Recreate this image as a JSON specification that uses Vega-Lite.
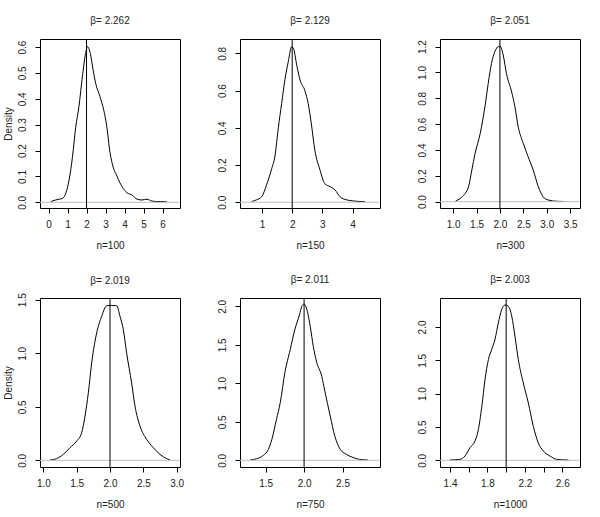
{
  "$schema": "https://vega.github.io/schema/vega-lite/v6.json",
  "background": "white",
  "padding": {"left": 2, "top": 15, "right": 5, "bottom": 5},
  "config": {
    "font": "Liberation Sans",
    "view": {"stroke": "black", "strokeWidth": 1},
    "axis": {"grid": false, "domain": false, "tickColor": "black", "tickSize": 5, "tickWidth": 1,
      "labelColor": "#222", "labelFontSize": 10, "labelPadding": 6, "labelOverlap": false, "labelFlush": false,
      "titleFontSize": 10, "titleFontWeight": "normal", "titleColor": "#222", "titlePadding": 11},
    "axisY": {"labelAngle": 270, "labelAlign": "center", "labelBaseline": "bottom", "labelPadding": 8, "titlePadding": 4},
    "title": {"fontSize": 10, "fontWeight": "normal", "color": "#222", "offset": 13}
  },
  "data": {"values": [
    {"p": "n=100", "x": 0.12, "y": 0.003}, {"p": "n=100", "x": 0.38, "y": 0.009}, {"p": "n=100", "x": 0.55, "y": 0.012},
    {"p": "n=100", "x": 0.73, "y": 0.015}, {"p": "n=100", "x": 0.91, "y": 0.035}, {"p": "n=100", "x": 1.08, "y": 0.086},
    {"p": "n=100", "x": 1.26, "y": 0.176}, {"p": "n=100", "x": 1.43, "y": 0.29}, {"p": "n=100", "x": 1.6, "y": 0.37},
    {"p": "n=100", "x": 1.78, "y": 0.485}, {"p": "n=100", "x": 1.95, "y": 0.575}, {"p": "n=100", "x": 2.05, "y": 0.602},
    {"p": "n=100", "x": 2.1, "y": 0.598}, {"p": "n=100", "x": 2.2, "y": 0.575}, {"p": "n=100", "x": 2.35, "y": 0.51},
    {"p": "n=100", "x": 2.48, "y": 0.46}, {"p": "n=100", "x": 2.7, "y": 0.41}, {"p": "n=100", "x": 2.91, "y": 0.355},
    {"p": "n=100", "x": 3.09, "y": 0.28}, {"p": "n=100", "x": 3.2, "y": 0.21}, {"p": "n=100", "x": 3.35, "y": 0.15},
    {"p": "n=100", "x": 3.61, "y": 0.1}, {"p": "n=100", "x": 3.87, "y": 0.06}, {"p": "n=100", "x": 4.13, "y": 0.037},
    {"p": "n=100", "x": 4.4, "y": 0.028}, {"p": "n=100", "x": 4.66, "y": 0.012}, {"p": "n=100", "x": 4.92, "y": 0.009},
    {"p": "n=100", "x": 5.18, "y": 0.012}, {"p": "n=100", "x": 5.44, "y": 0.005}, {"p": "n=100", "x": 5.7, "y": 0.003},
    {"p": "n=100", "x": 6.23, "y": 0.002},

    {"p": "n=150", "x": 0.66, "y": 0.004}, {"p": "n=150", "x": 0.82, "y": 0.013}, {"p": "n=150", "x": 0.99, "y": 0.03},
    {"p": "n=150", "x": 1.15, "y": 0.093}, {"p": "n=150", "x": 1.32, "y": 0.18}, {"p": "n=150", "x": 1.43, "y": 0.25},
    {"p": "n=150", "x": 1.54, "y": 0.4}, {"p": "n=150", "x": 1.65, "y": 0.53}, {"p": "n=150", "x": 1.76, "y": 0.66},
    {"p": "n=150", "x": 1.87, "y": 0.755}, {"p": "n=150", "x": 1.98, "y": 0.835}, {"p": "n=150", "x": 2.04, "y": 0.827},
    {"p": "n=150", "x": 2.15, "y": 0.737}, {"p": "n=150", "x": 2.26, "y": 0.657}, {"p": "n=150", "x": 2.42, "y": 0.6},
    {"p": "n=150", "x": 2.53, "y": 0.53}, {"p": "n=150", "x": 2.64, "y": 0.415}, {"p": "n=150", "x": 2.75, "y": 0.28},
    {"p": "n=150", "x": 2.92, "y": 0.174}, {"p": "n=150", "x": 3.08, "y": 0.1}, {"p": "n=150", "x": 3.25, "y": 0.084},
    {"p": "n=150", "x": 3.42, "y": 0.066}, {"p": "n=150", "x": 3.58, "y": 0.03}, {"p": "n=150", "x": 3.8, "y": 0.013},
    {"p": "n=150", "x": 4.02, "y": 0.007}, {"p": "n=150", "x": 4.41, "y": 0.003},

    {"p": "n=300", "x": 1.05, "y": 0.003}, {"p": "n=300", "x": 1.1, "y": 0.013}, {"p": "n=300", "x": 1.18, "y": 0.034},
    {"p": "n=300", "x": 1.26, "y": 0.065}, {"p": "n=300", "x": 1.33, "y": 0.116}, {"p": "n=300", "x": 1.4, "y": 0.245},
    {"p": "n=300", "x": 1.47, "y": 0.374}, {"p": "n=300", "x": 1.58, "y": 0.53}, {"p": "n=300", "x": 1.68, "y": 0.735},
    {"p": "n=300", "x": 1.75, "y": 0.916}, {"p": "n=300", "x": 1.82, "y": 1.07}, {"p": "n=300", "x": 1.89, "y": 1.16},
    {"p": "n=300", "x": 1.97, "y": 1.2}, {"p": "n=300", "x": 2.01, "y": 1.2}, {"p": "n=300", "x": 2.07, "y": 1.135},
    {"p": "n=300", "x": 2.14, "y": 0.99}, {"p": "n=300", "x": 2.25, "y": 0.85}, {"p": "n=300", "x": 2.32, "y": 0.735},
    {"p": "n=300", "x": 2.39, "y": 0.58}, {"p": "n=300", "x": 2.5, "y": 0.45}, {"p": "n=300", "x": 2.6, "y": 0.35},
    {"p": "n=300", "x": 2.71, "y": 0.245}, {"p": "n=300", "x": 2.82, "y": 0.116}, {"p": "n=300", "x": 2.92, "y": 0.039},
    {"p": "n=300", "x": 3.03, "y": 0.013}, {"p": "n=300", "x": 3.21, "y": 0.003}, {"p": "n=300", "x": 3.39, "y": 0.001},

    {"p": "n=500", "x": 1.1, "y": 0.003}, {"p": "n=500", "x": 1.2, "y": 0.016}, {"p": "n=500", "x": 1.3, "y": 0.056},
    {"p": "n=500", "x": 1.4, "y": 0.118}, {"p": "n=500", "x": 1.5, "y": 0.18}, {"p": "n=500", "x": 1.575, "y": 0.258},
    {"p": "n=500", "x": 1.625, "y": 0.413}, {"p": "n=500", "x": 1.675, "y": 0.63}, {"p": "n=500", "x": 1.725, "y": 0.91},
    {"p": "n=500", "x": 1.8, "y": 1.19}, {"p": "n=500", "x": 1.875, "y": 1.345}, {"p": "n=500", "x": 1.95, "y": 1.444},
    {"p": "n=500", "x": 2.025, "y": 1.447}, {"p": "n=500", "x": 2.1, "y": 1.444}, {"p": "n=500", "x": 2.15, "y": 1.345},
    {"p": "n=500", "x": 2.2, "y": 1.22}, {"p": "n=500", "x": 2.25, "y": 1.0}, {"p": "n=500", "x": 2.325, "y": 0.72},
    {"p": "n=500", "x": 2.375, "y": 0.506}, {"p": "n=500", "x": 2.45, "y": 0.32}, {"p": "n=500", "x": 2.55, "y": 0.196},
    {"p": "n=500", "x": 2.65, "y": 0.118}, {"p": "n=500", "x": 2.75, "y": 0.056}, {"p": "n=500", "x": 2.85, "y": 0.016},
    {"p": "n=500", "x": 2.9, "y": 0.003},

    {"p": "n=750", "x": 1.3, "y": 0.004}, {"p": "n=750", "x": 1.38, "y": 0.02}, {"p": "n=750", "x": 1.47, "y": 0.065},
    {"p": "n=750", "x": 1.535, "y": 0.14}, {"p": "n=750", "x": 1.58, "y": 0.27}, {"p": "n=750", "x": 1.64, "y": 0.53},
    {"p": "n=750", "x": 1.69, "y": 0.75}, {"p": "n=750", "x": 1.75, "y": 1.14}, {"p": "n=750", "x": 1.82, "y": 1.44},
    {"p": "n=750", "x": 1.88, "y": 1.7}, {"p": "n=750", "x": 1.94, "y": 1.89}, {"p": "n=750", "x": 1.97, "y": 2.0},
    {"p": "n=750", "x": 2.0, "y": 2.03}, {"p": "n=750", "x": 2.03, "y": 1.98}, {"p": "n=750", "x": 2.08, "y": 1.74},
    {"p": "n=750", "x": 2.12, "y": 1.48}, {"p": "n=750", "x": 2.16, "y": 1.29}, {"p": "n=750", "x": 2.23, "y": 1.09},
    {"p": "n=750", "x": 2.27, "y": 0.9}, {"p": "n=750", "x": 2.34, "y": 0.575}, {"p": "n=750", "x": 2.4, "y": 0.315},
    {"p": "n=750", "x": 2.47, "y": 0.143}, {"p": "n=750", "x": 2.55, "y": 0.078}, {"p": "n=750", "x": 2.64, "y": 0.035},
    {"p": "n=750", "x": 2.72, "y": 0.013}, {"p": "n=750", "x": 2.83, "y": 0.004},

    {"p": "n=1000", "x": 1.4, "y": 0.005}, {"p": "n=1000", "x": 1.507, "y": 0.015}, {"p": "n=1000", "x": 1.56, "y": 0.065},
    {"p": "n=1000", "x": 1.614, "y": 0.19}, {"p": "n=1000", "x": 1.667, "y": 0.29}, {"p": "n=1000", "x": 1.7, "y": 0.44},
    {"p": "n=1000", "x": 1.74, "y": 0.81}, {"p": "n=1000", "x": 1.774, "y": 1.21}, {"p": "n=1000", "x": 1.81, "y": 1.51},
    {"p": "n=1000", "x": 1.845, "y": 1.66}, {"p": "n=1000", "x": 1.88, "y": 1.81}, {"p": "n=1000", "x": 1.916, "y": 2.06},
    {"p": "n=1000", "x": 1.952, "y": 2.26}, {"p": "n=1000", "x": 1.988, "y": 2.33}, {"p": "n=1000", "x": 2.023, "y": 2.31},
    {"p": "n=1000", "x": 2.06, "y": 2.16}, {"p": "n=1000", "x": 2.094, "y": 1.86}, {"p": "n=1000", "x": 2.13, "y": 1.51},
    {"p": "n=1000", "x": 2.183, "y": 1.16}, {"p": "n=1000", "x": 2.237, "y": 0.86}, {"p": "n=1000", "x": 2.29, "y": 0.51},
    {"p": "n=1000", "x": 2.344, "y": 0.26}, {"p": "n=1000", "x": 2.397, "y": 0.14}, {"p": "n=1000", "x": 2.468, "y": 0.065},
    {"p": "n=1000", "x": 2.54, "y": 0.015}, {"p": "n=1000", "x": 2.664, "y": 0.005}
  ]},
  "columns": 3,
  "spacing": {"row": 90, "column": 60},
  "bounds": "flush",
  "concat": [
    {
      "title": {"text": "β= 2.262"}, "width": 140, "height": 169,
      "layer": [
        {"transform": [{"filter": "datum.p === 'n=100'"}], "mark": {"type": "line", "color": "black", "strokeWidth": 1, "interpolate": "monotone"},
         "encoding": {
           "x": {"field": "x", "type": "quantitative", "scale": {"domain": [-0.45, 6.92], "nice": false, "zero": false}, "axis": {"title": "n=100", "values": [0,1,2,3,4,5,6], "format": "d", "labelOverlap": false}},
           "y": {"field": "y", "type": "quantitative", "scale": {"domain": [-0.022, 0.631], "nice": false, "zero": false}, "axis": {"title": "Density", "values": [0,0.1,0.2,0.3,0.4,0.5,0.6], "format": ".1f", "labelOverlap": false}}
         }},
        {"data": {"values": [{"h": 0}]}, "mark": {"type": "rule", "color": "#bebebe", "strokeWidth": 1}, "encoding": {"y": {"field": "h", "type": "quantitative", "axis": {"title": "Density", "values": [0,0.1,0.2,0.3,0.4,0.5,0.6], "format": ".1f", "labelOverlap": false}}}},
        {"data": {"values": [{"v": 2}]}, "mark": {"type": "rule", "color": "black", "strokeWidth": 1}, "encoding": {"x": {"field": "v", "type": "quantitative", "axis": {"title": "n=100", "values": [0,1,2,3,4,5,6], "format": "d", "labelOverlap": false}}}}
      ]
    },
    {
      "title": {"text": "β= 2.129"}, "width": 140, "height": 169,
      "layer": [
        {"transform": [{"filter": "datum.p === 'n=150'"}], "mark": {"type": "line", "color": "black", "strokeWidth": 1, "interpolate": "monotone"},
         "encoding": {
           "x": {"field": "x", "type": "quantitative", "scale": {"domain": [0.27, 4.91], "nice": false, "zero": false}, "axis": {"title": "n=150", "values": [1,2,3,4], "format": "d", "labelOverlap": false}},
           "y": {"field": "y", "type": "quantitative", "scale": {"domain": [-0.031, 0.877], "nice": false, "zero": false}, "axis": {"title": null, "values": [0,0.2,0.4,0.6,0.8], "format": ".1f", "labelOverlap": false}}
         }},
        {"data": {"values": [{"h": 0}]}, "mark": {"type": "rule", "color": "#bebebe", "strokeWidth": 1}, "encoding": {"y": {"field": "h", "type": "quantitative", "axis": {"title": null, "values": [0,0.2,0.4,0.6,0.8], "format": ".1f", "labelOverlap": false}}}},
        {"data": {"values": [{"v": 2}]}, "mark": {"type": "rule", "color": "black", "strokeWidth": 1}, "encoding": {"x": {"field": "v", "type": "quantitative", "axis": {"title": "n=150", "values": [1,2,3,4], "format": "d", "labelOverlap": false}}}}
      ]
    },
    {
      "title": {"text": "β= 2.051"}, "width": 140, "height": 169,
      "layer": [
        {"transform": [{"filter": "datum.p === 'n=300'"}], "mark": {"type": "line", "color": "black", "strokeWidth": 1, "interpolate": "monotone"},
         "encoding": {
           "x": {"field": "x", "type": "quantitative", "scale": {"domain": [0.72, 3.71], "nice": false, "zero": false}, "axis": {"title": "n=300", "values": [1,1.5,2,2.5,3,3.5], "format": ".1f", "labelOverlap": false}},
           "y": {"field": "y", "type": "quantitative", "scale": {"domain": [-0.049, 1.259], "nice": false, "zero": false}, "axis": {"title": null, "values": [0,0.2,0.4,0.6,0.8,1,1.2], "format": ".1f", "labelOverlap": false}}
         }},
        {"data": {"values": [{"h": 0}]}, "mark": {"type": "rule", "color": "#bebebe", "strokeWidth": 1}, "encoding": {"y": {"field": "h", "type": "quantitative", "axis": {"title": null, "values": [0,0.2,0.4,0.6,0.8,1,1.2], "format": ".1f", "labelOverlap": false}}}},
        {"data": {"values": [{"v": 2}]}, "mark": {"type": "rule", "color": "black", "strokeWidth": 1}, "encoding": {"x": {"field": "v", "type": "quantitative", "axis": {"title": "n=300", "values": [1,1.5,2,2.5,3,3.5], "format": ".1f", "labelOverlap": false}}}}
      ]
    },
    {
      "title": {"text": "β= 2.019", "offset": 7}, "width": 140, "height": 169,
      "layer": [
        {"transform": [{"filter": "datum.p === 'n=500'"}], "mark": {"type": "line", "color": "black", "strokeWidth": 1, "interpolate": "monotone"},
         "encoding": {
           "x": {"field": "x", "type": "quantitative", "scale": {"domain": [0.95, 3.05], "nice": false, "zero": false}, "axis": {"title": "n=500", "values": [1,1.5,2,2.5,3], "format": ".1f", "labelOverlap": false}},
           "y": {"field": "y", "type": "quantitative", "scale": {"domain": [-0.062, 1.516], "nice": false, "zero": false}, "axis": {"title": "Density", "values": [0,0.5,1,1.5], "format": ".1f", "labelOverlap": false}}
         }},
        {"data": {"values": [{"h": 0}]}, "mark": {"type": "rule", "color": "#bebebe", "strokeWidth": 1}, "encoding": {"y": {"field": "h", "type": "quantitative", "axis": {"title": "Density", "values": [0,0.5,1,1.5], "format": ".1f", "labelOverlap": false}}}},
        {"data": {"values": [{"v": 2}]}, "mark": {"type": "rule", "color": "black", "strokeWidth": 1}, "encoding": {"x": {"field": "v", "type": "quantitative", "axis": {"title": "n=500", "values": [1,1.5,2,2.5,3], "format": ".1f", "labelOverlap": false}}}}
      ]
    },
    {
      "title": {"text": "β= 2.011"}, "width": 140, "height": 169,
      "layer": [
        {"transform": [{"filter": "datum.p === 'n=750'"}], "mark": {"type": "line", "color": "black", "strokeWidth": 1, "interpolate": "monotone"},
         "encoding": {
           "x": {"field": "x", "type": "quantitative", "scale": {"domain": [1.166, 2.988], "nice": false, "zero": false}, "axis": {"title": "n=750", "values": [1.5,2,2.5], "format": ".1f", "labelOverlap": false}},
           "y": {"field": "y", "type": "quantitative", "scale": {"domain": [-0.087, 2.109], "nice": false, "zero": false}, "axis": {"title": null, "values": [0,0.5,1,1.5,2], "format": ".1f", "labelOverlap": false}}
         }},
        {"data": {"values": [{"h": 0}]}, "mark": {"type": "rule", "color": "#bebebe", "strokeWidth": 1}, "encoding": {"y": {"field": "h", "type": "quantitative", "axis": {"title": null, "values": [0,0.5,1,1.5,2], "format": ".1f", "labelOverlap": false}}}},
        {"data": {"values": [{"v": 2}]}, "mark": {"type": "rule", "color": "black", "strokeWidth": 1}, "encoding": {"x": {"field": "v", "type": "quantitative", "axis": {"title": "n=750", "values": [1.5,2,2.5], "format": ".1f", "labelOverlap": false}}}}
      ]
    },
    {
      "title": {"text": "β= 2.003"}, "width": 140, "height": 169,
      "layer": [
        {"transform": [{"filter": "datum.p === 'n=1000'"}], "mark": {"type": "line", "color": "black", "strokeWidth": 1, "interpolate": "monotone"},
         "encoding": {
           "x": {"field": "x", "type": "quantitative", "scale": {"domain": [1.293, 2.789], "nice": false, "zero": false}, "axis": {"title": "n=1000", "values": [1.4,1.6,1.8,2,2.2,2.4,2.6], "format": ".1f", "labelOverlap": false, "labelExpr": "indexof(['1.4','1.8','2.2','2.6'], datum.label) >= 0 ? datum.label : ''"}},
           "y": {"field": "y", "type": "quantitative", "scale": {"domain": [-0.1, 2.434], "nice": false, "zero": false}, "axis": {"title": null, "values": [0,0.5,1,1.5,2], "format": ".1f", "labelOverlap": false}}
         }},
        {"data": {"values": [{"h": 0}]}, "mark": {"type": "rule", "color": "#bebebe", "strokeWidth": 1}, "encoding": {"y": {"field": "h", "type": "quantitative", "axis": {"title": null, "values": [0,0.5,1,1.5,2], "format": ".1f", "labelOverlap": false}}}},
        {"data": {"values": [{"v": 2}]}, "mark": {"type": "rule", "color": "black", "strokeWidth": 1}, "encoding": {"x": {"field": "v", "type": "quantitative", "axis": {"title": "n=1000", "values": [1.4,1.6,1.8,2,2.2,2.4,2.6], "format": ".1f", "labelOverlap": false, "labelExpr": "indexof(['1.4','1.8','2.2','2.6'], datum.label) >= 0 ? datum.label : ''"}}}}
      ]
    }
  ]
}
